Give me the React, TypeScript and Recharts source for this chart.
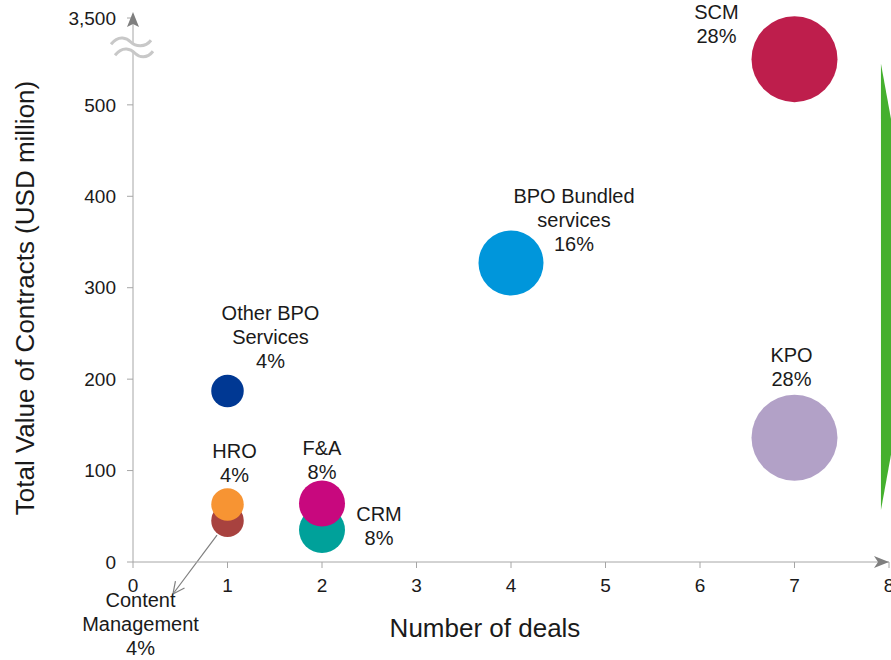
import React from 'react';
import {
  ScatterChart,
  Scatter,
  XAxis,
  YAxis,
  ZAxis,
  Cell,
  ReferenceDot,
  ReferenceArea,
  ReferenceLine,
} from 'recharts';

// ---- data ----
const segments = ['Content Management', 'HRO', 'Other BPO Services', 'CRM', 'F&A', 'BPO Bundled services', 'KPO', 'SCM'];
const deals = [1, 1, 1, 2, 2, 4, 7, 7];
// values in plot units (the axis is broken above 500; SCM sits above the break)
const values = [45, 63, 187, 35, 64, 327, 136, 550];
const shares = ['4%', '4%', '4%', '8%', '8%', '16%', '28%', '28%'];
const colors = ['#A8423F', '#F79433', '#003893', '#00A19A', '#C8087E', '#0096DB', '#B2A1C7', '#BE1E4C'];
const labelLines = [
  ['Content', 'Management'],
  ['HRO'],
  ['Other BPO', 'Services'],
  ['CRM'],
  ['F&A'],
  ['BPO Bundled', 'services'],
  ['KPO'],
  ['SCM'],
];
const xTicks = [0, 1, 2, 3, 4, 5, 6, 7, 8];
const yTicks = [0, 100, 200, 300, 400, 500, 595];
const yTickLabels = ['0', '100', '200', '300', '400', '500', '3,500'];

// label placement relative to bubble centre (px)
const labelOffsets = [
  { dx: -87, dy: 79 },
  { dx: 7, dy: -53 },
  { dx: 43, dy: -78 },
  { dx: 57, dy: -16 },
  { dx: 0, dy: -55 },
  { dx: 63, dy: -67 },
  { dx: -3, dy: -83 },
  { dx: -78, dy: -47 },
];

const data = segments.map((name, i) => ({
  name,
  x: deals[i],
  y: values[i],
  z: deals[i],
  i,
}));

const FONT = '"Liberation Sans", Arial, sans-serif';
const AXIS = '#A6A6A6';

const LabelShape = (props: any) => {
  const { cx, cy, payload } = props;
  const i = payload.i;
  const lines = [...labelLines[i], shares[i]];
  const off = labelOffsets[i];
  return (
    <g>
      {lines.map((t, k) => (
        <text
          key={k}
          x={cx + off.dx}
          y={cy + off.dy + k * 24}
          textAnchor="middle"
          dominantBaseline="central"
          fontFamily={FONT}
          fontSize={20}
          fill="#1a1a1a"
        >
          {t}
        </text>
      ))}
    </g>
  );
};

const YArrow = (props: any) => {
  const { cx, cy } = props;
  return (
    <g>
      <line x1={cx} y1={cy} x2={cx} y2={cy - 4} stroke={AXIS} strokeWidth={1} />
      <path d={`M ${cx} ${cy - 6} L ${cx + 6} ${cy + 9} L ${cx} ${cy + 6} L ${cx - 6} ${cy + 9} Z`} fill="#7F7F7F" />
    </g>
  );
};

const XArrow = (props: any) => {
  const { cx, cy } = props;
  return (
    <path d={`M ${cx} ${cy} L ${cx - 15} ${cy - 6} L ${cx - 11} ${cy} L ${cx - 15} ${cy + 6} Z`} fill="#7F7F7F" />
  );
};

const BreakMark = (props: any) => {
  const { cx, cy } = props;
  const up = `M ${cx - 22} ${cy - 3} C ${cx - 14} ${cy - 13}, ${cx - 6} ${cy - 9}, ${cx - 2} ${cy - 5} S ${cx + 12} ${cy + 1}, ${cx + 18} ${cy - 7}`;
  const lo = `M ${cx - 18} ${cy + 8} C ${cx - 10} ${cy - 2}, ${cx - 2} ${cy + 2}, ${cx + 2} ${cy + 6} S ${cx + 14} ${cy + 12}, ${cx + 20} ${cy + 4}`;
  const fill = `M ${cx - 22} ${cy - 3} C ${cx - 14} ${cy - 13}, ${cx - 6} ${cy - 9}, ${cx - 2} ${cy - 5} S ${cx + 12} ${cy + 1}, ${cx + 18} ${cy - 7} L ${cx + 20} ${cy + 4} C ${cx + 14} ${cy + 12}, ${cx + 6} ${cy + 10}, ${cx + 2} ${cy + 6} S ${cx - 10} ${cy - 2}, ${cx - 18} ${cy + 8} Z`;
  return (
    <g>
      <path d={fill} fill="#FFFFFF" stroke="none" />
      <path d={up} fill="none" stroke="#C8C8C8" strokeWidth={3} />
      <path d={lo} fill="none" stroke="#C8C8C8" strokeWidth={3} />
    </g>
  );
};

const GreenShape = (props: any) => {
  const { x, y, width, height } = props;
  const s = 5.5;
  return (
    <path
      d={`M ${x} ${y} L ${x + width} ${y + width * s} L ${x + width} ${y + height - width * s} L ${x} ${y + height} Z`}
      fill="#45B02E"
    />
  );
};

const ArrowLine = (props: any) => {
  const { x1, y1, x2, y2 } = props;
  const a = Math.atan2(y2 - y1, x2 - x1);
  const L = 13;
  const w = 0.45;
  const ax = x2 - L * Math.cos(a - w);
  const ay = y2 - L * Math.sin(a - w);
  const bx = x2 - L * Math.cos(a + w);
  const by = y2 - L * Math.sin(a + w);
  return (
    <g>
      <line x1={x1} y1={y1} x2={x2} y2={y2} stroke="#7F7F7F" strokeWidth={1.2} />
      <path d={`M ${ax} ${ay} L ${x2} ${y2} L ${bx} ${by}`} fill="none" stroke="#7F7F7F" strokeWidth={1.2} />
    </g>
  );
};

const XTitle = (props: any) => {
  const vb = props.viewBox || {};
  return (
    <text x={vb.x + vb.width / 2 - 26} y={628} textAnchor="middle" dominantBaseline="central" fontFamily={FONT} fontSize={26} fill="#1a1a1a">
      Number of deals
    </text>
  );
};

const YTitle = () => (
  <text
    x={25}
    y={298}
    transform="rotate(-90 25 298)"
    textAnchor="middle"
    dominantBaseline="central"
    fontFamily={FONT}
    fontSize={26}
    fill="#1a1a1a"
  >
    Total Value of Contracts (USD million)
  </text>
);

export default function App() {
  return (
    <div style={{ position: 'absolute', left: 0, top: 0, width: 891, height: 660, background: '#fff' }}>
      <ScatterChart width={891} height={660} margin={{ top: 18, right: 2, bottom: 0, left: 0 }}>
        <XAxis
          type="number"
          dataKey="x"
          domain={[0, 8]}
          ticks={xTicks}
          interval={0}
          height={98}
          stroke={AXIS}
          tickSize={6}
          tickMargin={11}
          tick={{ fill: '#1a1a1a', fontSize: 19, fontFamily: FONT }}
          label={<XTitle />}
        />
        <YAxis
          type="number"
          dataKey="y"
          domain={[0, 595]}
          ticks={yTicks}
          interval={0}
          width={133}
          stroke={AXIS}
          tickSize={6}
          tickMargin={11}
          tickFormatter={(v: number) => yTickLabels[yTicks.indexOf(v)] ?? String(v)}
          tick={{ fill: '#1a1a1a', fontSize: 19, fontFamily: FONT }}
          label={<YTitle />}
        />
        <ZAxis type="number" dataKey="z" domain={[0, 7]} range={[0, 5809]} />
        <ReferenceArea x1={7.915} x2={8.1} y1={57} y2={545} ifOverflow="visible" shape={<GreenShape />} />
        <Scatter data={data} isAnimationActive={false}>
          {data.map((d, i) => (
            <Cell key={d.name} fill={colors[i]} />
          ))}
        </Scatter>
        <Scatter data={data} isAnimationActive={false} shape={<LabelShape />} legendType="none" />
        <ReferenceLine
          segment={[{ x: 0.889, y: 29.5 }, { x: 0.423, y: -35 }]}
          ifOverflow="visible"
          shape={<ArrowLine />}
        />
        <ReferenceDot x={0} y={563} r={1} ifOverflow="visible" shape={<BreakMark />} />
        <ReferenceDot x={0} y={595} r={1} ifOverflow="visible" shape={<YArrow />} />
        <ReferenceDot x={8} y={0} r={1} ifOverflow="visible" shape={<XArrow />} />
      </ScatterChart>
    </div>
  );
}
